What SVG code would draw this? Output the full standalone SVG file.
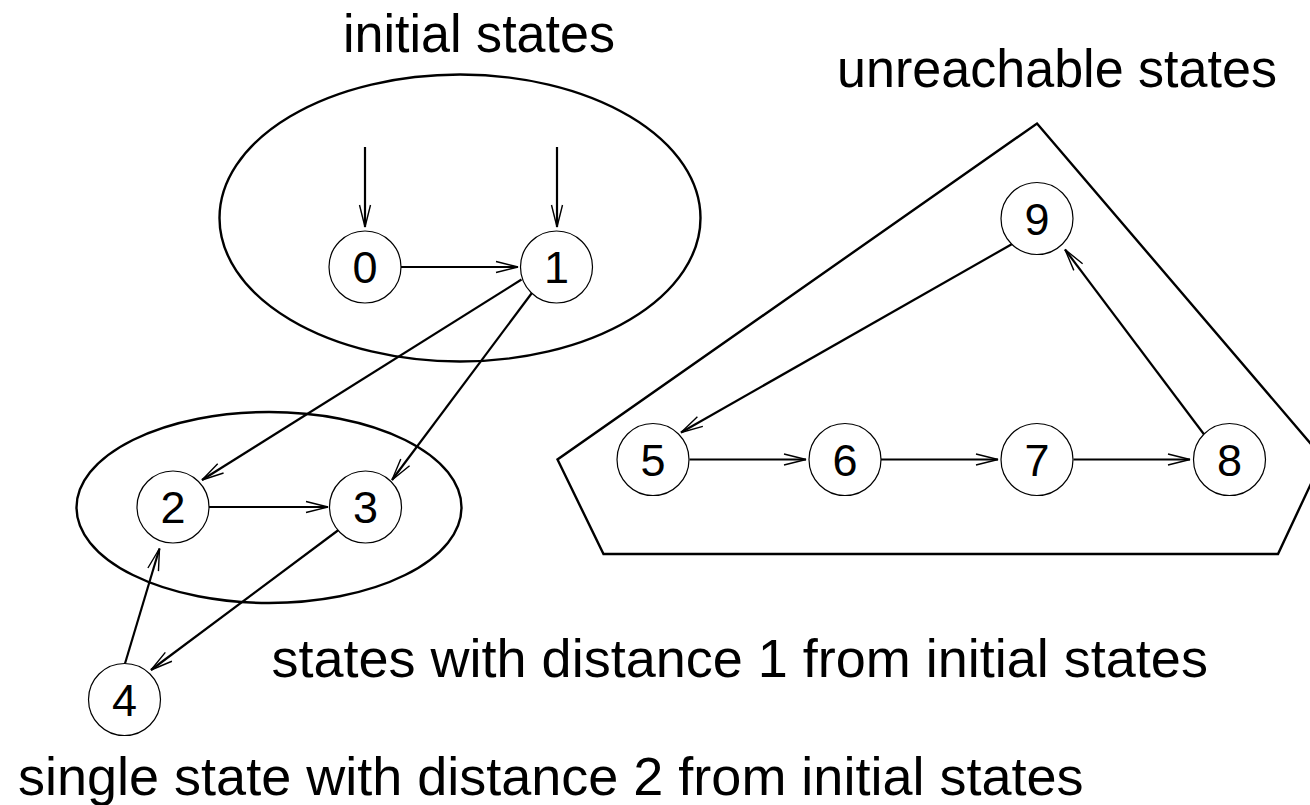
<svg xmlns="http://www.w3.org/2000/svg" width="1310" height="805" viewBox="0 0 1310 805">
<style>
.node circle{fill:#fff;stroke:#000;stroke-width:1.2}
.node text{font-family:"Liberation Sans",Arial,sans-serif;font-size:45px;text-anchor:middle;fill:#000}
.set{fill:none;stroke:#000;stroke-width:2.4}
.edges line{stroke:#000;stroke-width:2.2;marker-end:url(#arr)}
.label{font-family:"Liberation Sans",Arial,sans-serif;font-size:54px;fill:#000}
</style>
<defs>
<marker id="arr" markerUnits="userSpaceOnUse" viewBox="-24 -7 26 14" refX="0" refY="0" markerWidth="26" markerHeight="14" orient="auto" overflow="visible">
<path d="M-22,-5.5 L0,0 L-22,5.5" fill="none" stroke="#000" stroke-width="1.4"/>
</marker>
</defs>
<rect width="1310" height="805" fill="#fff"/>
<g id="groups">
<ellipse id="initial-set" class="set" cx="460" cy="218" rx="240.5" ry="143.5"/>
<ellipse id="distance1-set" class="set" cx="269" cy="507.5" rx="192.5" ry="95.5"/>
<polygon id="unreachable-set" class="set" points="1037,123.5 1323,458 1278,554 603.5,554 557.5,459.5"/>
</g>
<g id="edges" class="edges">
<line x1="365" y1="147" x2="365" y2="227"/>
<line x1="557" y1="147" x2="557" y2="227"/>
<line x1="401" y1="267" x2="518" y2="267"/>
<line x1="521.5" y1="279.5" x2="202" y2="480"/>
<line x1="533" y1="291.5" x2="392" y2="480"/>
<line x1="209" y1="507" x2="328" y2="507"/>
<line x1="338.5" y1="530" x2="151" y2="670"/>
<line x1="125" y1="663.5" x2="159.5" y2="548.5"/>
<line x1="1013" y1="243.5" x2="681" y2="432.5"/>
<line x1="1204.5" y1="435" x2="1065" y2="249.5"/>
<line x1="689.5" y1="459.5" x2="806" y2="459.5"/>
<line x1="881" y1="459.5" x2="998" y2="459.5"/>
<line x1="1073.5" y1="459.5" x2="1190" y2="459.5"/>
</g>
<g id="node0" class="node"><circle cx="365" cy="267" r="36"/><text x="365" y="283">0</text></g>
<g id="node1" class="node"><circle cx="556.5" cy="267" r="36"/><text x="556.5" y="283">1</text></g>
<g id="node2" class="node"><circle cx="173" cy="507" r="36"/><text x="173" y="523">2</text></g>
<g id="node3" class="node"><circle cx="365.5" cy="507" r="36"/><text x="365.5" y="523">3</text></g>
<g id="node4" class="node"><circle cx="124.5" cy="699.5" r="36"/><text x="124.5" y="715.5">4</text></g>
<g id="node5" class="node"><circle cx="653" cy="459.5" r="36"/><text x="653" y="475.5">5</text></g>
<g id="node6" class="node"><circle cx="845" cy="459.5" r="36"/><text x="845" y="475.5">6</text></g>
<g id="node7" class="node"><circle cx="1037" cy="459.5" r="36"/><text x="1037" y="475.5">7</text></g>
<g id="node8" class="node"><circle cx="1229.5" cy="459.5" r="36"/><text x="1229.5" y="475.5">8</text></g>
<g id="node9" class="node"><circle cx="1037" cy="218.5" r="36"/><text x="1037" y="234.5">9</text></g>
<g id="labels">
<text class="label" x="343" y="51.5" textLength="272" lengthAdjust="spacingAndGlyphs">initial states</text>
<text class="label" x="837" y="86.5" textLength="440" lengthAdjust="spacingAndGlyphs">unreachable states</text>
<text class="label" x="271.5" y="676.5">states with distance 1 from initial states</text>
<text class="label" x="18" y="795">single state with distance 2 from initial states</text>
</g>
</svg>
